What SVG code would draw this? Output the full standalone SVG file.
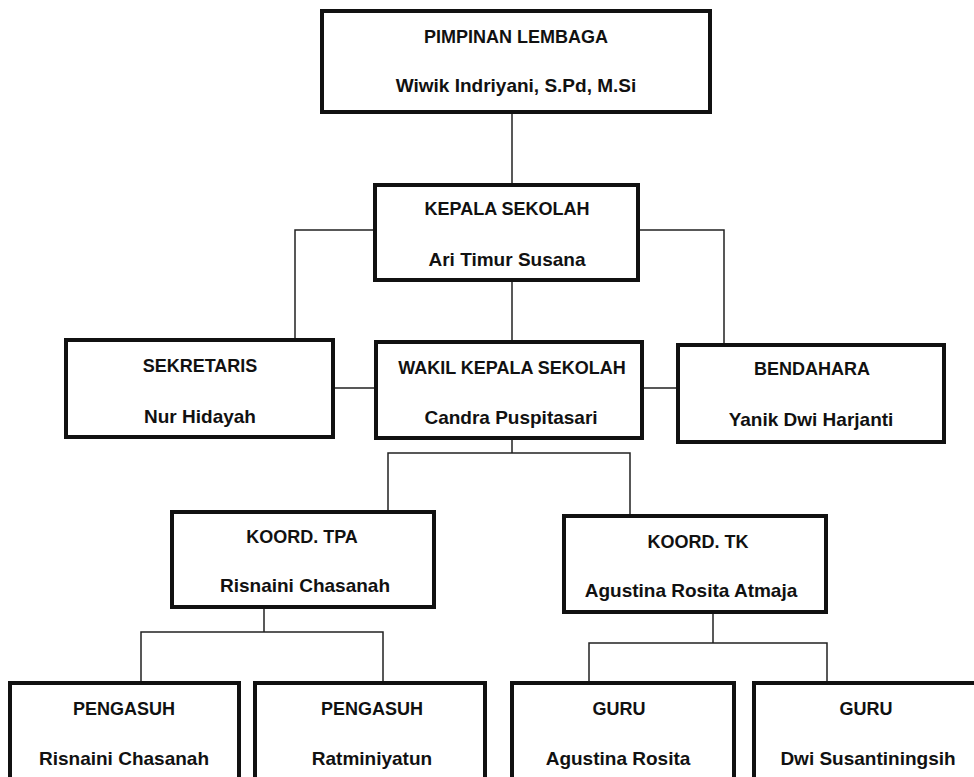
<svg xmlns="http://www.w3.org/2000/svg" width="974" height="777" viewBox="0 0 974 777">
<style>
.box{fill:#fff;stroke:#111;stroke-width:4}
.t{font-family:"Liberation Sans",Arial,sans-serif;font-weight:bold;fill:#111;text-anchor:middle}
.h{font-size:18px}
.n{font-size:19px}
.c{fill:none;stroke:#222;stroke-width:1.5}
</style>
<rect width="974" height="777" fill="#fff"/>
<g id="connectors">
<path class="c" d="M512 112V185"/>
<path class="c" d="M295 340V230H724V345"/>
<path class="c" d="M512 280V342"/>
<path class="c" d="M333 388H376M642 388H678"/>
<path class="c" d="M512 438V453"/>
<path class="c" d="M388 512V453H630V516"/>
<path class="c" d="M264 607V632"/>
<path class="c" d="M141 683V632H383V683"/>
<path class="c" d="M713 612V643"/>
<path class="c" d="M589 683V643H827V683"/>
</g>
<g id="pimpinan">
<rect class="box" x="322" y="11" width="388" height="101"/>
<text class="t h" x="516" y="43">PIMPINAN LEMBAGA</text>
<text class="t n" x="516" y="92">Wiwik Indriyani, S.Pd, M.Si</text>
</g>
<g id="kepala">
<rect class="box" x="375" y="185" width="263" height="95"/>
<text class="t h" x="507" y="215">KEPALA SEKOLAH</text>
<text class="t n" x="507" y="266">Ari Timur Susana</text>
</g>
<g id="sekretaris">
<rect class="box" x="66" y="340" width="267" height="97"/>
<text class="t h" x="200" y="372">SEKRETARIS</text>
<text class="t n" x="200" y="423">Nur Hidayah</text>
</g>
<g id="wakil">
<rect class="box" x="376" y="342" width="266" height="96"/>
<text class="t h" x="512" y="374">WAKIL KEPALA SEKOLAH</text>
<text class="t n" x="511" y="424">Candra Puspitasari</text>
</g>
<g id="bendahara">
<rect class="box" x="678" y="345" width="266" height="97"/>
<text class="t h" x="812" y="375">BENDAHARA</text>
<text class="t n" x="811" y="426">Yanik Dwi Harjanti</text>
</g>
<g id="koord-tpa">
<rect class="box" x="172" y="512" width="262" height="95"/>
<text class="t h" x="302" y="543">KOORD. TPA</text>
<text class="t n" x="305" y="592">Risnaini Chasanah</text>
</g>
<g id="koord-tk">
<rect class="box" x="564" y="516" width="262" height="96"/>
<text class="t h" x="698" y="548">KOORD. TK</text>
<text class="t n" x="691" y="597">Agustina Rosita Atmaja</text>
</g>
<g id="pengasuh-1">
<rect class="box" x="10" y="683" width="229" height="100"/>
<text class="t h" x="124" y="715">PENGASUH</text>
<text class="t n" x="124" y="765">Risnaini Chasanah</text>
</g>
<g id="pengasuh-2">
<rect class="box" x="255" y="683" width="230" height="100"/>
<text class="t h" x="372" y="715">PENGASUH</text>
<text class="t n" x="372" y="765">Ratminiyatun</text>
</g>
<g id="guru-1">
<rect class="box" x="512" y="683" width="222" height="100"/>
<text class="t h" x="619" y="715">GURU</text>
<text class="t n" x="618" y="765">Agustina Rosita</text>
</g>
<g id="guru-2">
<rect class="box" x="754" y="683" width="224" height="100"/>
<text class="t h" x="866" y="715">GURU</text>
<text class="t n" x="868" y="765">Dwi Susantiningsih</text>
</g>
</svg>
